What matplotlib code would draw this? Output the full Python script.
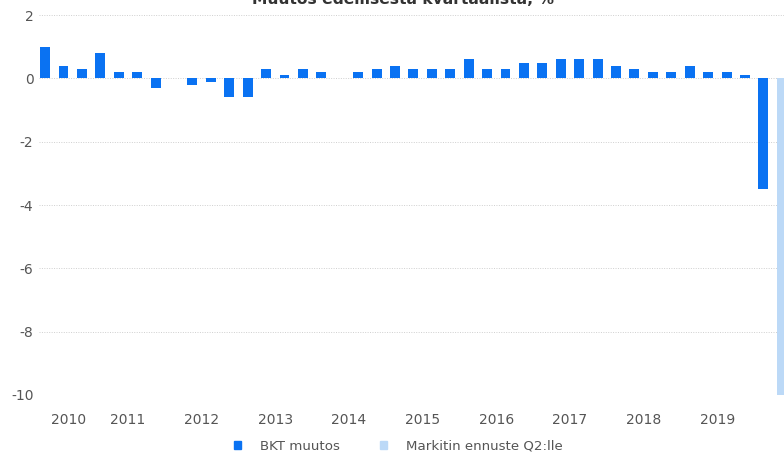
import matplotlib.pyplot as plt
import matplotlib.patches as mpatches
import numpy as np

# DATOS: BKT MUUTOS EDELLISESTÄ KVARTAALISTA (%), 40 KVARTAALIA
bkt_muutos = [1.0, 0.4, 0.3, 0.8,
              0.2, 0.2, -0.3, 0.0,
              -0.2, -0.1, -0.6, -0.6,
              0.3, 0.1, 0.3, 0.2,
              0.0, 0.2, 0.3, 0.4,
              0.3, 0.3, 0.3, 0.6,
              0.3, 0.3, 0.5, 0.5,
              0.6, 0.6, 0.6, 0.4,
              0.3, 0.2, 0.2, 0.4,
              0.2, 0.2, 0.1, -3.5]
ennuste = [-12.0]
vuodet = ['2010', '2011', '2012', '2013', '2014', '2015', '2016', '2017', '2018', '2019']
y_ticks = [2, 0, -2, -4, -6, -8, -10]

sininen = '#0a72f2'
vaalea = '#bcd9f7'
harmaa = '#555555'

x = np.arange(len(bkt_muutos))
x_ennuste = np.arange(len(bkt_muutos), len(bkt_muutos) + len(ennuste))

fig = plt.figure(figsize=(7.84, 4.54), dpi=100)
ax = fig.add_axes([39/784, 1 - 395/454, 1 - 39/784, (395 - 15)/454])

ax.bar(x, bkt_muutos, width=0.54, color=sininen, zorder=3)
ax.bar(x_ennuste, ennuste, width=0.54, color=vaalea, zorder=3)

ax.set_xlim(-0.33, 40.12)
ax.set_ylim(-10, 2)
ax.set_yticks(y_ticks)
ax.set_yticklabels([str(v) for v in y_ticks])
ax.grid(axis='y', linestyle=(0, (1, 1.5)), color='#cfcfcf', linewidth=0.7, zorder=0)

# VUOSILUVUT Q1/Q2 VÄLIIN, 2010 HIEMAN OIKEALLE
x_pos = [1.25] + [4*k + 0.5 for k in range(1, len(vuodet))]
ax.set_xticks(x_pos)
ax.set_xticklabels(vuodet)

for s in ax.spines.values():
    s.set_visible(False)
ax.tick_params(axis='both', length=0, labelsize=10, labelcolor=harmaa)
ax.tick_params(axis='y', pad=4)
ax.tick_params(axis='x', pad=13)

fig.text(0.514, 1 - 4/454, 'Muutos edellisestä kvartaalista, %', ha='center', va='baseline',
         fontsize=11.2, fontweight='bold', color='#333333')

handles = [mpatches.Patch(color=sininen, label='BKT muutos'),
           mpatches.Patch(color=vaalea, label='Markitin ennuste Q2:lle')]
leg = fig.legend(handles=handles, loc='center', bbox_to_anchor=(0.508, 1 - 446/454), ncol=2,
                 frameon=False, fontsize=9.6, handlelength=0.55, handleheight=0.55,
                 handletextpad=1.4, columnspacing=3.0)
for t in leg.get_texts():
    t.set_color(harmaa)

fig.savefig('out.png', dpi=100)
